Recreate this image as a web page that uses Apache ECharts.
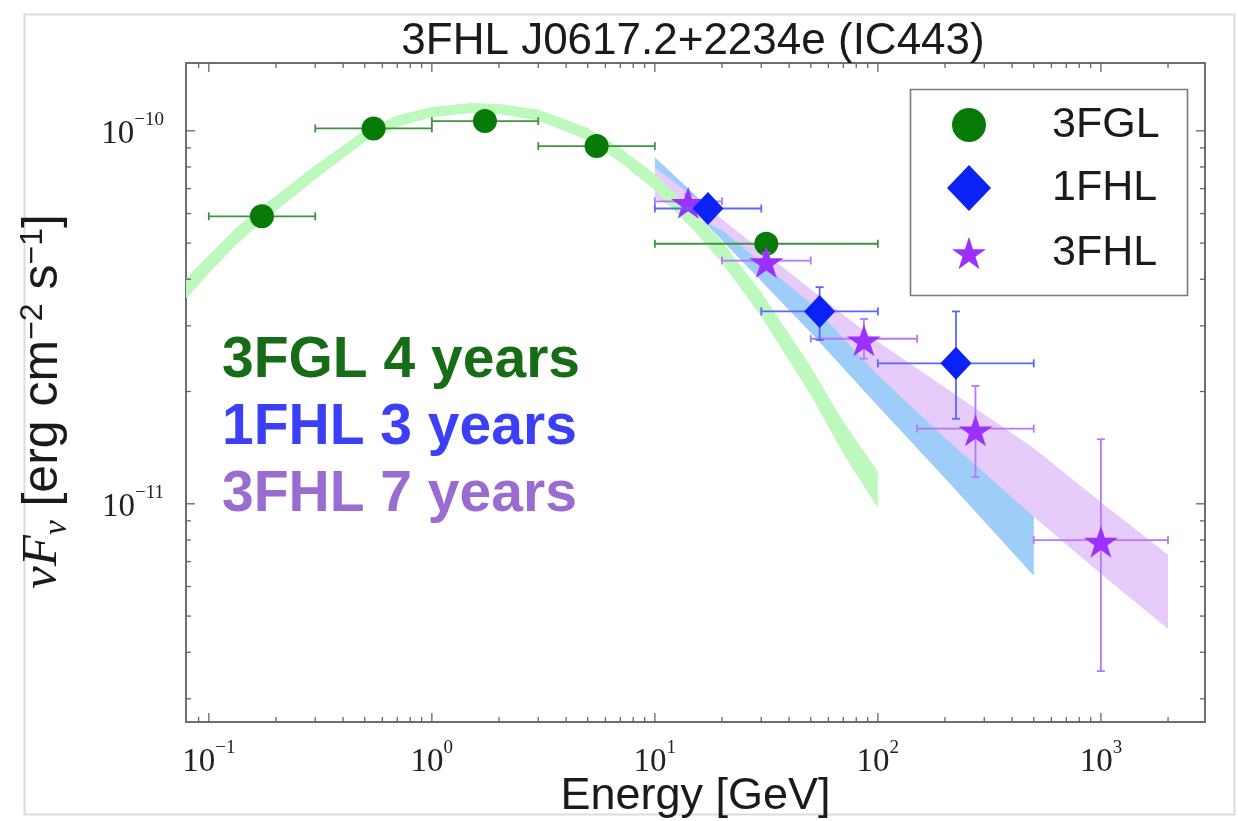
<!DOCTYPE html>
<html><head><meta charset="utf-8">
<script src="https://cdn.jsdelivr.net/npm/echarts@6/dist/echarts.min.js"></script>
<style>html,body{margin:0;padding:0;background:#fff}#c{width:1238px;height:821px}</style>
</head><body><div id="c"></div>
<script>
// ---------------- data ----------------
const fglE   = [0.173, 0.548, 1.73, 5.48, 31.6];
const fglELo = [0.1, 0.3, 1, 3, 10];
const fglEHi = [0.3, 1, 3, 10, 100];
const fglF   = [5.90e-11, 1.015e-10, 1.062e-10, 9.10e-11, 4.98e-11];

const fhl1E   = [17.3, 54.8, 224];
const fhl1ELo = [10, 30, 100];
const fhl1EHi = [30, 100, 500];
const fhl1F   = [6.19e-11, 3.28e-11, 2.38e-11];
const fhl1FLo = [5.90e-11, 2.75e-11, 1.69e-11];
const fhl1FHi = [6.50e-11, 3.81e-11, 3.28e-11];

const fhl3E   = [14.1, 31.6, 86.6, 274, 1000];
const fhl3ELo = [10, 20, 50, 150, 500];
const fhl3EHi = [20, 50, 150, 500, 2000];
const fhl3F   = [6.47e-11, 4.49e-11, 2.77e-11, 1.59e-11, 7.99e-12];
const fhl3FLo = [6.20e-11, 4.28e-11, 2.45e-11, 1.18e-11, 3.56e-12];
const fhl3FHi = [6.75e-11, 4.70e-11, 3.13e-11, 2.07e-11, 1.49e-11];

// model bands (upper / lower edges)
const fglBandE  = [0.079, 0.1, 0.13, 0.17, 0.2, 0.3, 0.5, 0.7, 1, 1.5, 2, 3, 5, 7, 10, 15, 20, 30, 50, 70, 100];
const fglBandHi = [4.02e-11, 4.64e-11, 5.43e-11, 6.24e-11, 6.70e-11, 8.09e-11, 1.004e-10, 1.099e-10, 1.158e-10, 1.187e-10, 1.180e-10, 1.140e-10, 1.017e-10, 8.99e-11, 7.65e-11, 6.07e-11, 5.04e-11, 3.69e-11, 2.33e-11, 1.66e-11, 1.22e-11];
const fglBandLo = [3.55e-11, 4.15e-11, 4.89e-11, 5.65e-11, 6.10e-11, 7.42e-11, 9.33e-11, 1.026e-10, 1.088e-10, 1.116e-10, 1.109e-10, 1.065e-10, 9.44e-11, 8.24e-11, 6.93e-11, 5.40e-11, 4.43e-11, 3.18e-11, 1.96e-11, 1.36e-11, 9.76e-12];

const fhl1BandE  = [10, 20, 50, 100, 200, 500];
const fhl1BandHi = [8.50e-11, 5.76e-11, 3.45e-11, 2.33e-11, 1.58e-11, 9.40e-12];
const fhl1BandLo = [7.75e-11, 5.09e-11, 2.88e-11, 1.83e-11, 1.17e-11, 6.41e-12];

const fhl3BandE  = [10, 20, 50, 100, 200, 500, 1000, 2000];
const fhl3BandHi = [7.99e-11, 5.79e-11, 3.76e-11, 2.72e-11, 2.05e-11, 1.41e-11, 1.01e-11, 7.30e-12];
const fhl3BandLo = [6.60e-11, 5.41e-11, 3.45e-11, 2.21e-11, 1.50e-11, 9.23e-12, 6.49e-12, 4.62e-12];

// axis ticks
const xRange = [0.079, 2930];
const yRange = [2.6e-12, 1.52e-10];
const xMajorTicks = [0.1, 1, 10, 100, 1000];
const xMinorTicks = [0.09, 0.2, 0.3, 0.4, 0.5, 0.6, 0.7, 0.8, 0.9, 2, 3, 4, 5, 6, 7, 8, 9,
  20, 30, 40, 50, 60, 70, 80, 90, 200, 300, 400, 500, 600, 700, 800, 900, 2000];
const yMajorTicks = [1e-11, 1e-10];
const yMinorTicks = [3e-12, 4e-12, 5e-12, 6e-12, 7e-12, 8e-12, 9e-12,
  2e-11, 3e-11, 4e-11, 5e-11, 6e-11, 7e-11, 8e-11, 9e-11];

// ---------------- chart ----------------
const SANS = 'Liberation Sans, Arial, sans-serif';
const SERIF = 'Liberation Serif, DejaVu Serif, serif';
const STAR = 'path://M0,-100L22.45,-30.9L95.1,-30.9L36.33,11.8L58.8,80.9L0,38.2L-58.8,80.9L-36.33,11.8L-95.1,-30.9L-22.45,-30.9Z';

const C_GREEN = '#087a08', C_BLUE = '#0a22f5', C_PURPLE = '#9b30ff';

function bandRender(E, hi, lo, color) {
  return function (params, api) {
    if (params.dataIndex !== 0) return null;
    const pts = [];
    for (let i = 0; i < E.length; i++) pts.push(api.coord([E[i], hi[i]]));
    for (let i = E.length - 1; i >= 0; i--) pts.push(api.coord([E[i], lo[i]]));
    return { type: 'polygon', shape: { points: pts }, style: { fill: color } };
  };
}
function errRender(color) {
  return function (params, api) {
    const xc = api.value(0), yc = api.value(1);
    const pl = api.coord([api.value(2), yc]), ph = api.coord([api.value(3), yc]);
    const pb = api.coord([xc, api.value(4)]), pt = api.coord([xc, api.value(5)]);
    const s = { stroke: color, lineWidth: 1.8 };
    const cap = 4;
    const L = (x1, y1, x2, y2) => ({ type: 'line', shape: { x1, y1, x2, y2 }, style: s });
    return { type: 'group', children: [
      L(pl[0], pl[1], ph[0], ph[1]),
      L(pl[0], pl[1] - cap, pl[0], pl[1] + cap),
      L(ph[0], ph[1] - cap, ph[0], ph[1] + cap),
      L(pb[0], pb[1], pt[0], pt[1]),
      L(pb[0] - cap, pb[1], pb[0] + cap, pb[1]),
      L(pt[0] - cap, pt[1], pt[0] + cap, pt[1])
    ] };
  };
}
function xTickRender(params, api) {
  const v = api.value(0), major = api.value(2);
  const len = major ? 9 : 5;
  const b = api.coord([v, yRange[0]]), t = api.coord([v, yRange[1]]);
  const s = { stroke: '#666', lineWidth: 1.3 };
  return { type: 'group', children: [
    { type: 'line', shape: { x1: b[0], y1: b[1], x2: b[0], y2: b[1] - len }, style: s },
    { type: 'line', shape: { x1: t[0], y1: t[1], x2: t[0], y2: t[1] + len }, style: s }
  ] };
}
function yTickRender(params, api) {
  const v = api.value(1), major = api.value(2);
  const len = major ? 9 : 5;
  const l = api.coord([xRange[0], v]), r = api.coord([xRange[1], v]);
  const s = { stroke: '#666', lineWidth: 1.3 };
  return { type: 'group', children: [
    { type: 'line', shape: { x1: l[0], y1: l[1], x2: l[0] + len, y2: l[1] }, style: s },
    { type: 'line', shape: { x1: r[0], y1: r[1], x2: r[0] - len, y2: r[1] }, style: s }
  ] };
}
function powLabel(v) {
  const e = Math.log10(v), r = Math.round(e);
  if (Math.abs(e - r) > 1e-6) return '';
  return '{b|10}{s|' + (r < 0 ? '\u2212' + (-r) : r) + '}';
}
const tickRich = {
  b: { fontFamily: SERIF, fontSize: 33, lineHeight: 40, verticalAlign: 'bottom', color: '#222' },
  s: { fontFamily: SERIF, fontSize: 19, lineHeight: 20, verticalAlign: 'top', color: '#222' }
};

const errData = (E, ELo, EHi, F, FLo, FHi) => E.map((e, i) => [e, F[i], ELo[i], EHi[i], FLo ? FLo[i] : F[i], FHi ? FHi[i] : F[i]]);

const chart = echarts.init(document.getElementById('c'), null, { renderer: 'canvas' });
chart.setOption({
  animation: false,
  backgroundColor: '#fff',
  title: {
    text: '3FHL J0617.2+2234e (IC443)', left: 688, top: 15, textAlign: 'center',
    textStyle: { fontFamily: SANS, fontSize: 44, fontWeight: 'normal', color: '#1a1a1a' }
  },
  grid: { left: 186, right: 33, top: 63, bottom: 99, show: true, borderColor: '#6e6e6e', borderWidth: 2, backgroundColor: 'transparent', containLabel: false, outerBoundsMode: 'none' },
  xAxis: {
    type: 'log', logBase: 10, min: xRange[0], max: xRange[1],
    name: 'Energy [GeV]', nameLocation: 'middle', nameGap: 52, nameMoveOverlap: false,
    nameTextStyle: { fontFamily: SANS, fontSize: 45, color: '#1a1a1a' },
    axisLine: { show: false }, axisTick: { show: false }, splitLine: { show: false }, minorTick: { show: false },
    axisLabel: { formatter: powLabel, rich: tickRich, margin: 17, hideOverlap: false, showMinLabel: true, showMaxLabel: true }
  },
  yAxis: {
    type: 'log', logBase: 10, min: yRange[0], max: yRange[1],
    name: '{i|\u03bdF}{sub|\u03bd}{t| [erg cm}{sup|\u22122}{t| s}{sup|\u22121}{e|]}',
    nameLocation: 'middle', nameGap: 112, nameRotate: 90, nameMoveOverlap: false,
    nameTextStyle: {
      color: '#1a1a1a',
      rich: {
        i: { fontFamily: SERIF, fontStyle: 'italic', fontSize: 51, lineHeight: 57, verticalAlign: 'bottom', padding: [0, 0, 6, 0] },
        sub: { fontFamily: SERIF, fontStyle: 'italic', fontSize: 33, lineHeight: 33, verticalAlign: 'bottom' },
        t: { fontFamily: SANS, fontSize: 50, lineHeight: 57, verticalAlign: 'bottom', padding: [0, 0, 6, 0] },
        e: { fontFamily: SANS, fontSize: 50, lineHeight: 57, verticalAlign: 'bottom', padding: [0, 18, 6, 0] },
        sup: { fontFamily: SANS, fontSize: 32, lineHeight: 32, verticalAlign: 'top' }
      }
    },
    axisLine: { show: false }, axisTick: { show: false }, splitLine: { show: false }, minorTick: { show: false },
    axisLabel: { formatter: powLabel, rich: tickRich, margin: 22, hideOverlap: false }
  },
  legend: [
    { data: ['3FGL'], left: 952, top: 102, padding: 0, itemWidth: 34, itemHeight: 34, selectedMode: false, z: 30,
      textStyle: { fontFamily: SANS, fontSize: 43, lineHeight: 46, color: '#1a1a1a', padding: [0, 0, 0, 61] } },
    { data: ['1FHL'], left: 947, top: 165, padding: 0, itemWidth: 44, itemHeight: 46, selectedMode: false, z: 30,
      textStyle: { fontFamily: SANS, fontSize: 43, lineHeight: 46, color: '#1a1a1a', padding: [0, 0, 0, 56] } },
    { data: ['3FHL'], left: 952, top: 230, padding: 0, itemWidth: 34, itemHeight: 34, selectedMode: false, z: 30,
      textStyle: { fontFamily: SANS, fontSize: 43, lineHeight: 46, color: '#1a1a1a', padding: [0, 0, 0, 61] } }
  ],
  graphic: [
    { type: 'rect', left: 22, top: 12, shape: { width: 1210, height: 800 }, style: { fill: 'none', stroke: '#dcdcdc', lineWidth: 2 }, silent: true, z: -10 },
    { type: 'rect', left: 908, top: 87, shape: { width: 277, height: 206 }, style: { fill: 'none', stroke: '#7a7a7a', lineWidth: 1.6 }, silent: true, z: 1 },
    { type: 'text', left: 222, top: 333, style: { text: '3FGL 4 years', fontFamily: SANS, fontWeight: 'bold', fontSize: 57, fill: '#176c17' }, z: 60 },
    { type: 'text', left: 222, top: 400, style: { text: '1FHL 3 years', fontFamily: SANS, fontWeight: 'bold', fontSize: 57, fill: '#3b40f8' }, z: 60 },
    { type: 'text', left: 222, top: 467, style: { text: '3FHL 7 years', fontFamily: SANS, fontWeight: 'bold', fontSize: 57, fill: '#9a6bd0' }, z: 60 }
  ],
  series: [
    { type: 'custom', name: 'band1FHL', renderItem: bandRender(fhl1BandE, fhl1BandHi, fhl1BandLo, '#9dcdf8'), data: fhl1BandE.map((e, i) => [e, fhl1BandHi[i], fhl1BandLo[i]]), z: 2, clip: true, silent: true },
    { type: 'custom', name: 'band3FHL', renderItem: bandRender(fhl3BandE, fhl3BandHi, fhl3BandLo, '#e6cbfb'), data: fhl3BandE.map((e, i) => [e, fhl3BandHi[i], fhl3BandLo[i]]), z: 3, clip: true, silent: true },
    { type: 'custom', name: 'band3FGL', renderItem: bandRender(fglBandE, fglBandHi, fglBandLo, '#bdf8bd'), data: fglBandE.map((e, i) => [e, fglBandHi[i], fglBandLo[i]]), z: 4, clip: true, silent: true },

    { type: 'custom', name: 'err3FGL', renderItem: errRender('#3f923f'), data: errData(fglE, fglELo, fglEHi, fglF), z: 5, silent: true },
    { type: 'scatter', name: '3FGL', data: fglE.map((e, i) => [e, fglF[i]]), symbol: 'circle', symbolSize: 24, itemStyle: { color: C_GREEN, opacity: 1 }, z: 6, emphasis: { disabled: true } },
    { type: 'custom', name: 'err3FHL', renderItem: errRender('#b676ff'), data: errData(fhl3E, fhl3ELo, fhl3EHi, fhl3F, fhl3FLo, fhl3FHi), z: 7, silent: true },
    { type: 'scatter', name: '3FHL', data: fhl3E.map((e, i) => [e, fhl3F[i]]), symbol: STAR, symbolSize: [34, 32], symbolOffset: [0, 1.5], itemStyle: { color: C_PURPLE, opacity: 1 }, z: 8, emphasis: { disabled: true } },
    { type: 'custom', name: 'err1FHL', renderItem: errRender('#5a66ff'), data: errData(fhl1E, fhl1ELo, fhl1EHi, fhl1F, fhl1FLo, fhl1FHi), z: 9, silent: true },
    { type: 'scatter', name: '1FHL', data: fhl1E.map((e, i) => [e, fhl1F[i]]), symbol: 'diamond', symbolSize: [31, 33], itemStyle: { color: C_BLUE, opacity: 1 }, z: 10, emphasis: { disabled: true } },

    { type: 'custom', name: 'xticks', renderItem: xTickRender, data: xMajorTicks.map(v => [v, 1e-11, 1]).concat(xMinorTicks.map(v => [v, 1e-11, 0])), z: 20, silent: true },
    { type: 'custom', name: 'yticks', renderItem: yTickRender, data: yMajorTicks.map(v => [1, v, 1]).concat(yMinorTicks.map(v => [1, v, 0])), z: 20, silent: true }
  ]
});
</script>
</body></html>
